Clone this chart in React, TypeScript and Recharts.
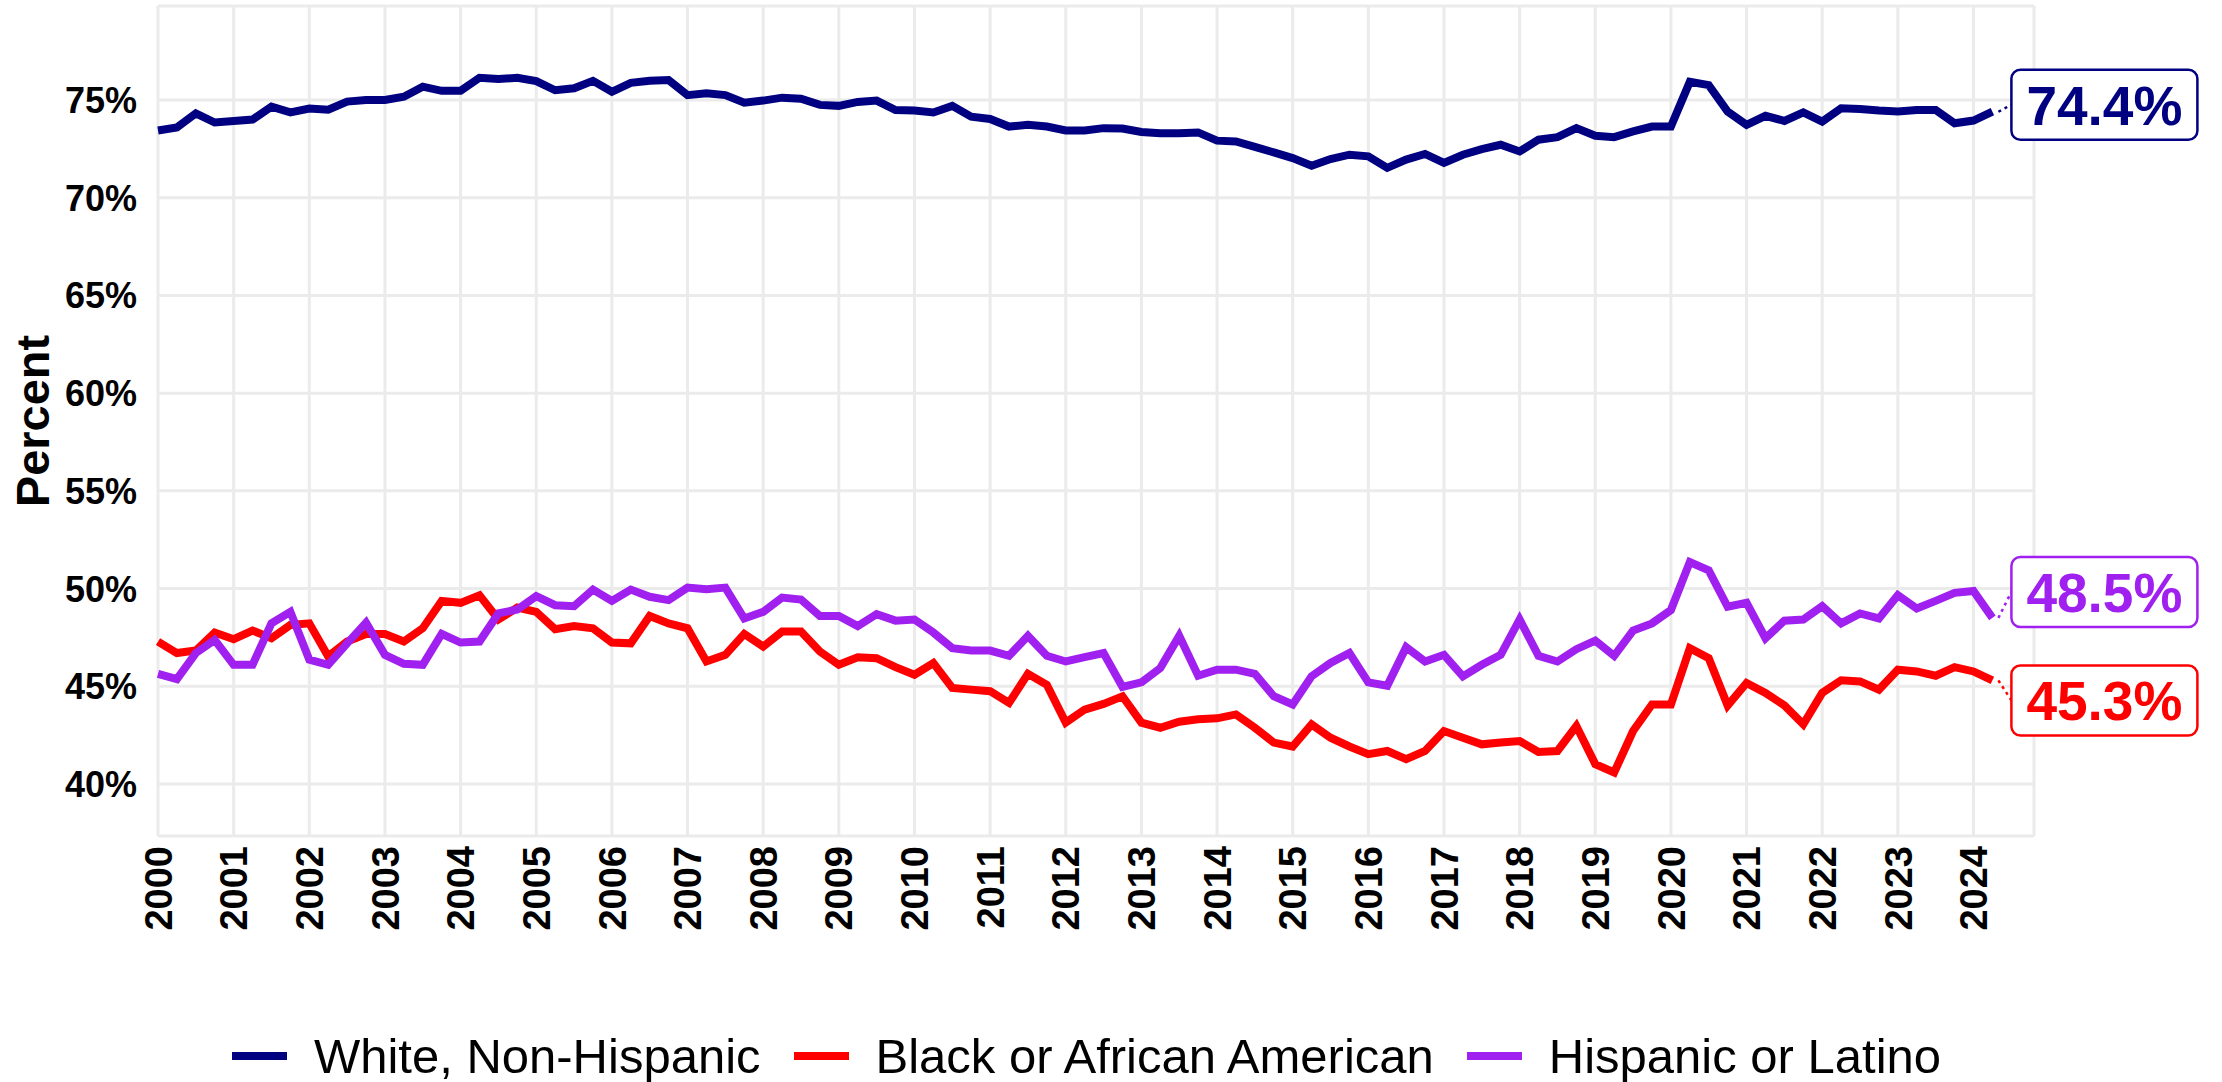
import { LineChart, Line, XAxis, YAxis, CartesianGrid } from 'recharts';

// quarterly series, 2000 Q1 .. 2024 Q2
const years = [
  2000, 2001, 2002, 2003, 2004, 2005, 2006, 2007, 2008, 2009, 2010, 2011, 2012,
  2013, 2014, 2015, 2016, 2017, 2018, 2019, 2020, 2021, 2022, 2023, 2024,
];

const whiteNonHispanic = [
  73.44, 73.6, 74.32, 73.85, 73.93, 74.0, 74.66, 74.37, 74.56, 74.5, 74.92, 75.0,
  75.0, 75.17, 75.68, 75.47, 75.47, 76.14, 76.07, 76.14, 75.97, 75.5, 75.6, 75.98,
  75.42, 75.88, 75.98, 76.02, 75.25, 75.34, 75.25, 74.86, 74.97, 75.12, 75.07, 74.75,
  74.7, 74.9, 74.97, 74.49, 74.46, 74.36, 74.7, 74.15, 74.03, 73.64, 73.73, 73.64,
  73.44, 73.44, 73.56, 73.54, 73.36, 73.3, 73.3, 73.34, 72.92, 72.88, 72.6, 72.32,
  72.03, 71.64, 71.98, 72.2, 72.12, 71.53, 71.95, 72.24, 71.78, 72.2, 72.49, 72.71,
  72.37, 72.97, 73.1, 73.56, 73.17, 73.1, 73.39, 73.64, 73.64, 75.93, 75.76, 74.41,
  73.73, 74.19, 73.93, 74.37, 73.9, 74.58, 74.54, 74.46, 74.41, 74.49, 74.49, 73.81,
  73.95, 74.4,
];

const blackAfricanAmerican = [
  47.29, 46.7, 46.83, 47.75, 47.41, 47.85, 47.46, 48.14, 48.22, 46.53, 47.29, 47.68,
  47.68, 47.29, 47.97, 49.37, 49.27, 49.66, 48.42, 49.03, 48.81, 47.92, 48.08, 47.97,
  47.24, 47.2, 48.6, 48.22, 47.97, 46.27, 46.61, 47.68, 47.03, 47.8, 47.8, 46.78,
  46.1, 46.49, 46.44, 45.98, 45.59, 46.19, 44.92, 44.83, 44.75, 44.15, 45.64, 45.08,
  43.14, 43.81, 44.1, 44.49, 43.14, 42.88, 43.19, 43.31, 43.36, 43.56, 42.88, 42.12,
  41.92, 43.05, 42.37, 41.92, 41.53, 41.69, 41.27, 41.69, 42.71, 42.37, 42.03, 42.12,
  42.2, 41.64, 41.69, 42.97, 41.02, 40.59, 42.71, 44.07, 44.07, 46.95, 46.44, 44.02,
  45.17, 44.66, 44.02, 43.05, 44.66, 45.31, 45.25, 44.83, 45.85, 45.76, 45.54, 45.98,
  45.76, 45.3,
];

const hispanicLatino = [
  45.64, 45.37, 46.7, 47.37, 46.1, 46.1, 48.22, 48.81, 46.36, 46.1, 47.2, 48.25,
  46.61, 46.15, 46.1, 47.68, 47.24, 47.29, 48.73, 48.93, 49.61, 49.15, 49.1, 49.95,
  49.37, 49.95, 49.58, 49.41, 50.05, 49.97, 50.05, 48.47, 48.81, 49.54, 49.44, 48.6,
  48.6, 48.08, 48.69, 48.36, 48.42, 47.75, 46.95, 46.83, 46.83, 46.56, 47.58, 46.56,
  46.27, 46.49, 46.7, 44.97, 45.2, 45.93, 47.58, 45.54, 45.85, 45.85, 45.64, 44.49,
  44.07, 45.51, 46.19, 46.7, 45.2, 45.03, 47.0, 46.27, 46.61, 45.51, 46.1, 46.61,
  48.42, 46.56, 46.27, 46.9, 47.34, 46.56, 47.85, 48.22, 48.9, 51.36, 50.93, 49.07,
  49.27, 47.46, 48.36, 48.42, 49.1, 48.22, 48.73, 48.47, 49.66, 48.98, 49.37, 49.78,
  49.88, 48.5,
];

const yTicks = [40, 45, 50, 55, 60, 65, 70, 75];

const data = whiteNonHispanic.map((w, i) => ({
  t: years[0] + i / 4,
  white: w,
  black: blackAfricanAmerican[i],
  hispanic: hispanicLatino[i],
}));

const FONT = '"Liberation Sans", Arial, Helvetica, sans-serif';

const series = [
  { key: 'white', name: 'White, Non-Hispanic', color: '#000080', shift: -7 },
  { key: 'black', name: 'Black or African American', color: '#FF0000', shift: 20 },
  { key: 'hispanic', name: 'Hispanic or Latino', color: '#A020F0', shift: -26 },
];

function endLabel(color: string, shift: number) {
  return (props: any) => {
    const { cx, cy, index, value } = props;
    if (index !== data.length - 1) return <g key={`d${index}`} />;
    const bx = cx + 19;
    const by = cy + shift;
    return (
      <g key={`d${index}`}>
        <line x1={cx + 6} y1={cy} x2={bx} y2={by} stroke={color} strokeWidth={2.5} strokeDasharray="3 4" />
        <rect x={bx} y={by - 35} width={186} height={70} rx={9} fill="#fff" stroke={color} strokeWidth={2.5} />
        <text
          x={bx + 93}
          y={by}
          dy="0.36em"
          textAnchor="middle"
          fill={color}
          fontSize={55}
          fontWeight="bold"
          fontFamily={FONT}
        >
          {Number(value).toFixed(1)}%
        </text>
      </g>
    );
  };
}

function YearTick(props: any) {
  const { x, y, payload } = props;
  return (
    <text
      x={x}
      y={y}
      dy="0.36em"
      transform={`rotate(-90, ${x}, ${y})`}
      textAnchor="end"
      fontSize={38}
      fontWeight="bold"
      fontFamily={FONT}
      fill="#000"
    >
      {payload.value}
    </text>
  );
}

function PercentTick(props: any) {
  const { x, y, payload } = props;
  return (
    <text
      x={x}
      y={y}
      dy="0.36em"
      textAnchor="end"
      fontSize={36}
      fontWeight="bold"
      fontFamily={FONT}
      fill="#000"
    >
      {payload.value}%
    </text>
  );
}

export default function App() {
  return (
    <div style={{ position: 'absolute', left: 0, top: 0, width: 2222, height: 1082, background: '#fff', fontFamily: FONT }}>
      <LineChart width={2222} height={1082} data={data} margin={{ top: 6, right: 188, left: 0, bottom: 136 }}>
        <CartesianGrid stroke="#EBEBEB" strokeWidth={3} />
        <XAxis
          dataKey="t"
          type="number"
          domain={[2000, 2024.8]}
          ticks={years}
          interval={0}
          axisLine={false}
          tickLine={false}
          tickSize={0}
          tickMargin={10}
          height={110}
          tick={<YearTick />}
        />
        <YAxis
          type="number"
          domain={[37.34, 79.81]}
          ticks={yTicks}
          width={158}
          axisLine={false}
          tickLine={false}
          tickSize={0}
          tickMargin={21}
          tick={<PercentTick />}
          label={{
            content: () => (
              <text
                x={32}
                y={421}
                transform="rotate(-90, 32, 421)"
                textAnchor="middle"
                dy="0.36em"
                fontSize={47}
                fontWeight="bold"
                fontFamily={FONT}
                fill="#000"
              >
                Percent
              </text>
            ),
          }}
        />
        {series.map((s) => (
          <Line
            key={s.key}
            dataKey={s.key}
            name={s.name}
            type="linear"
            stroke={s.color}
            strokeWidth={8}
            strokeLinejoin="miter"
            dot={endLabel(s.color, s.shift)}
            activeDot={false}
            isAnimationActive={false}
          />
        ))}
      </LineChart>
      <div
        style={{
          position: 'absolute',
          left: 0,
          top: 1026,
          width: 2206,
          height: 60,
          display: 'flex',
          justifyContent: 'center',
          alignItems: 'center',
          fontSize: 49,
          color: '#000',
        }}
      >
        {series.map((s) => (
          <div key={s.key} style={{ display: 'flex', alignItems: 'center', marginRight: 33 }}>
            <div style={{ width: 55, height: 8, background: s.color, marginRight: 27 }} />
            <span>{s.name}</span>
          </div>
        ))}
      </div>
    </div>
  );
}
